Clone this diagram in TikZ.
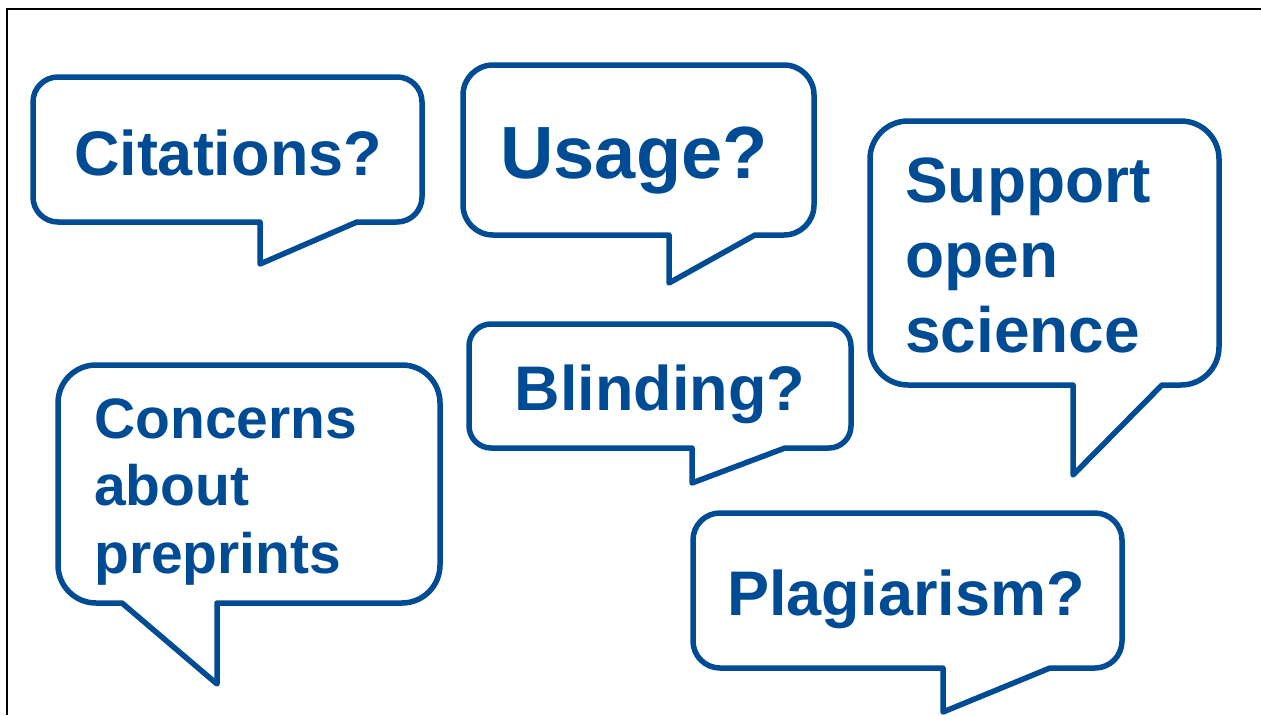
\documentclass[tikz,border=0pt]{standalone}
\usepackage{fontspec}
\setmainfont{Liberation Sans}
\usepackage{tikz}

\definecolor{qblue}{RGB}{0,76,148}

\tikzset{
  bubble/.style = {draw=qblue, line width=5.5pt, line join=round},
  qtext/.style = {text=qblue, font=\bfseries, inner sep=0pt},
}

\begin{document}
\begin{tikzpicture}[x=1pt, y=-1pt]
  \useasboundingbox (0,0) rectangle (1261,715);
  \draw[line width=2.5pt] (7,715) -- (7,9) -- (1261,9);

  % speech bubbles
  \draw[bubble, rounded corners=25] (33,150) -- (33,77) -- (422,77) -- (422,222) [sharp corners] -- (357,222) -- (260,264) -- (260,222) [rounded corners=25] -- (33,222) -- cycle;
  \draw[bubble, rounded corners=30] (463,150) -- (463,65) -- (814,65) -- (814,235) [sharp corners] -- (755,235) -- (669,283) -- (669,235) [rounded corners=30] -- (463,235) -- cycle;
  \draw[bubble, rounded corners=38] (870,250) -- (870,121) -- (1219,121) -- (1219,385) [sharp corners] -- (1162,385) -- (1073,475) -- (1073,385) [rounded corners=38] -- (870,385) -- cycle;
  \draw[bubble, rounded corners=22] (469,380) -- (469,324) -- (851,324) -- (851,448) [sharp corners] -- (785,448) -- (692,483) -- (692,448) [rounded corners=22] -- (469,448) -- cycle;
  \draw[bubble, rounded corners=38] (58,480) -- (58,365) -- (440,365) -- (440,603) [sharp corners] -- (217,603) -- (217,684) -- (122,603) [rounded corners=38] -- (58,603) -- cycle;
  \draw[bubble, rounded corners=27] (693,590) -- (693,513) -- (1122,513) -- (1122,668) [sharp corners] -- (1050,668) -- (943,712) -- (943,668) [rounded corners=27] -- (693,668) -- cycle;

  % texts
  \node (cit) [qtext, anchor=base] at (228,175) {\fontsize{63}{75}\selectfont Citations?};
  \node (use) [qtext, anchor=base] at (634,178) {\fontsize{74}{85}\selectfont Usage?};
  \node (bli) [qtext, anchor=base] at (660,410) {\fontsize{63}{75}\selectfont Blinding?};
  \node (pla) [qtext, anchor=base] at (906,615) {\fontsize{63}{75}\selectfont Plagiarism?};
  \node (sup) [qtext, anchor=base west, align=left, font=\bfseries\fontsize{64}{75}\selectfont] at (905,352) {Support\\open\\science};
  \node (con) [qtext, anchor=base west, align=left, font=\bfseries\fontsize{57}{67.5}\selectfont] at (94,573) {Concerns\\about\\preprints};
\end{tikzpicture}
\end{document}
